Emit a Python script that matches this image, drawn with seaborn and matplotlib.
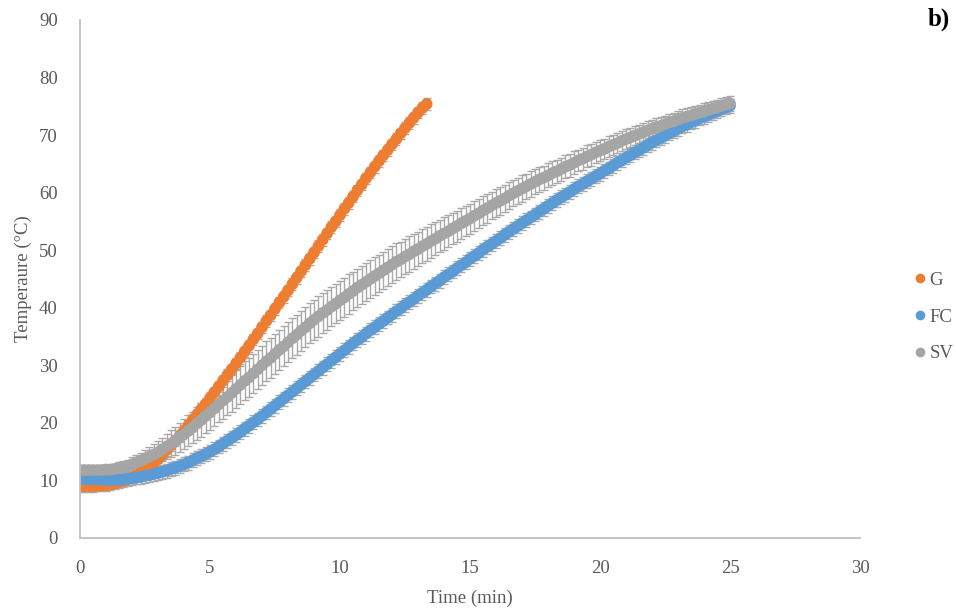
import numpy as np
import pandas as pd
import matplotlib
matplotlib.use("Agg")
import matplotlib.pyplot as plt
from matplotlib.lines import Line2D
import seaborn as sns

# Sampling interval: one reading every 10 s
step_min = 1 / 6

# G: mean temperature (°C), one row per minute of heating
g_temp = [
    9.0, 9.0, 9.0, 9.0, 9.1, 9.1,
    9.2, 9.3, 9.5, 9.7, 9.9, 10.2,
    10.5, 10.9, 11.3, 11.8, 12.4, 13.0,
    13.7, 14.5, 15.3, 16.1, 16.9, 17.7,
    18.6, 19.5, 20.5, 21.4, 22.4, 23.3,
    24.3, 25.3, 26.3, 27.3, 28.3, 29.3,
    30.3, 31.3, 32.4, 33.4, 34.5, 35.5,
    36.6, 37.7, 38.7, 39.8, 40.9, 41.9,
    43.0, 44.1, 45.2, 46.3, 47.4, 48.5,
    49.6, 50.7, 51.8, 52.9, 54.0, 55.0,
    56.1, 57.2, 58.2, 59.3, 60.4, 61.4,
    62.5, 63.5, 64.5, 65.5, 66.5, 67.4,
    68.4, 69.3, 70.3, 71.2, 72.1, 73.0,
    73.9, 74.7, 75.4,
]

# FC: mean temperature (°C)
fc_temp = [
    10.3, 10.3, 10.2, 10.2, 10.2, 10.1,
    10.1, 10.1, 10.1, 10.1, 10.2, 10.3,
    10.4, 10.5, 10.6, 10.8, 10.9, 11.1,
    11.3, 11.5, 11.7, 12.0, 12.2, 12.5,
    12.8, 13.1, 13.5, 13.9, 14.2, 14.6,
    15.0, 15.4, 15.9, 16.4, 16.9, 17.4,
    17.9, 18.4, 19.0, 19.5, 20.1, 20.6,
    21.2, 21.8, 22.4, 23.0, 23.6, 24.2,
    24.8, 25.4, 26.0, 26.6, 27.2, 27.8,
    28.4, 29.0, 29.6, 30.2, 30.8, 31.4,
    32.0, 32.6, 33.2, 33.8, 34.4, 34.9,
    35.5, 36.1, 36.6, 37.2, 37.7, 38.3,
    38.8, 39.4, 39.9, 40.5, 41.0, 41.5,
    42.1, 42.6, 43.1, 43.7, 44.2, 44.7,
    45.3, 45.8, 46.3, 46.9, 47.4, 47.9,
    48.5, 49.0, 49.5, 50.1, 50.6, 51.1,
    51.6, 52.1, 52.7, 53.2, 53.7, 54.2,
    54.7, 55.2, 55.7, 56.2, 56.7, 57.2,
    57.7, 58.2, 58.7, 59.2, 59.6, 60.1,
    60.6, 61.1, 61.5, 62.0, 62.4, 62.9,
    63.3, 63.8, 64.2, 64.7, 65.2, 65.6,
    66.1, 66.5, 67.0, 67.4, 67.8, 68.3,
    68.7, 69.1, 69.5, 69.9, 70.3, 70.7,
    71.1, 71.5, 71.8, 72.2, 72.5, 72.9,
    73.2, 73.5, 73.9, 74.2, 74.5, 74.8,
    75.1,
]

# SV: mean temperature (°C)
sv_temp = [
    11.8, 11.8, 11.8, 11.8, 11.8, 11.8,
    11.9, 11.9, 12.0, 12.2, 12.3, 12.5,
    12.8, 13.1, 13.4, 13.8, 14.1, 14.5,
    14.9, 15.4, 15.9, 16.4, 16.9, 17.5,
    18.0, 18.6, 19.2, 19.9, 20.5, 21.2,
    21.8, 22.5, 23.2, 23.9, 24.5, 25.2,
    25.9, 26.6, 27.3, 27.9, 28.6, 29.3,
    30.0, 30.7, 31.3, 32.0, 32.7, 33.3,
    34.0, 34.7, 35.3, 36.0, 36.6, 37.3,
    37.9, 38.5, 39.1, 39.6, 40.2, 40.7,
    41.3, 41.8, 42.4, 42.9, 43.5, 44.0,
    44.5, 45.0, 45.5, 46.0, 46.5, 47.0,
    47.5, 48.0, 48.4, 48.9, 49.3, 49.8,
    50.2, 50.7, 51.1, 51.6, 52.0, 52.5,
    52.9, 53.3, 53.8, 54.2, 54.7, 55.1,
    55.5, 56.0, 56.4, 56.9, 57.3, 57.8,
    58.2, 58.6, 59.0, 59.5, 59.9, 60.3,
    60.7, 61.1, 61.5, 61.9, 62.3, 62.6,
    63.0, 63.4, 63.7, 64.1, 64.5, 64.8,
    65.2, 65.6, 65.9, 66.3, 66.6, 67.0,
    67.3, 67.6, 68.0, 68.3, 68.6, 69.0,
    69.3, 69.6, 69.9, 70.2, 70.5, 70.8,
    71.1, 71.4, 71.6, 71.9, 72.2, 72.4,
    72.7, 73.0, 73.2, 73.4, 73.7, 73.9,
    74.1, 74.4, 74.6, 74.8, 75.1, 75.3,
    75.5,
]

# SV: standard deviation (°C)
sv_sd = [
    0.4, 0.4, 0.5, 0.5, 0.6, 0.6,
    0.7, 0.8, 0.9, 1.0, 1.0, 1.1,
    1.2, 1.3, 1.4, 1.5, 1.7, 1.8,
    1.9, 2.0, 2.1, 2.3, 2.4, 2.5,
    2.6, 2.7, 2.7, 2.8, 2.9, 2.9,
    3.0, 3.1, 3.1, 3.2, 3.2, 3.3,
    3.3, 3.3, 3.4, 3.4, 3.4, 3.4,
    3.4, 3.5, 3.5, 3.5, 3.5, 3.5,
    3.5, 3.5, 3.5, 3.5, 3.5, 3.5,
    3.5, 3.5, 3.5, 3.5, 3.4, 3.4,
    3.4, 3.4, 3.4, 3.3, 3.3, 3.3,
    3.3, 3.3, 3.3, 3.2, 3.2, 3.2,
    3.2, 3.2, 3.1, 3.1, 3.1, 3.0,
    3.0, 3.0, 2.9, 2.9, 2.9, 2.8,
    2.8, 2.8, 2.7, 2.7, 2.7, 2.6,
    2.6, 2.6, 2.5, 2.5, 2.5, 2.4,
    2.4, 2.4, 2.4, 2.3, 2.3, 2.3,
    2.3, 2.2, 2.2, 2.2, 2.1, 2.1,
    2.1, 2.1, 2.0, 2.0, 2.0, 2.0,
    2.0, 1.9, 1.9, 1.9, 1.9, 1.8,
    1.8, 1.8, 1.8, 1.7, 1.7, 1.7,
    1.7, 1.7, 1.7, 1.6, 1.6, 1.6,
    1.6, 1.6, 1.6, 1.5, 1.5, 1.5,
    1.5, 1.5, 1.5, 1.4, 1.4, 1.4,
    1.4, 1.4, 1.4, 1.3, 1.3, 1.3,
    1.3,
]

# G and FC: fixed-value error bars (°C)
g_sd = 1.0
fc_sd = 1.2

series_names = ["G", "FC", "SV"]
series_colors = ["#ED7D31", "#5B9BD5", "#A5A5A5"]

x_ticks = [0, 5, 10, 15, 20, 25, 30]
y_ticks = [0, 10, 20, 30, 40, 50, 60, 70, 80, 90]


def readings(name, temps, sd):
    n = len(temps)
    return pd.DataFrame({
        "Time (min)": np.arange(n) * step_min,
        "Temperature": temps,
        "sd": np.broadcast_to(np.asarray(sd, dtype=float), (n,)),
        "Sample": name,
    })


df = pd.concat([
    readings("G", g_temp, g_sd),
    readings("FC", fc_temp, fc_sd),
    readings("SV", sv_temp, sv_sd),
], ignore_index=True)

sns.set_theme(style="white")
plt.rcParams["font.family"] = ["Liberation Serif", "DejaVu Serif"]

fig = plt.figure(figsize=(9.56, 6.10), dpi=100)
ax = fig.add_axes([80 / 956, 72 / 610, 780 / 956, 518 / 610])

# error bars underneath the markers
for name in series_names:
    d = df[df["Sample"] == name]
    ax.errorbar(d["Time (min)"], d["Temperature"], yerr=d["sd"],
                fmt="none", ecolor="#A9A9A9", elinewidth=1.0,
                capsize=3.2, capthick=1.0, zorder=1)

sns.scatterplot(data=df, x="Time (min)", y="Temperature", hue="Sample",
                hue_order=series_names, palette=series_colors,
                s=72, linewidth=0, alpha=1, legend=False, ax=ax, zorder=2)

ax.set_xlim(0, 30)
ax.set_ylim(0, 90)
ax.set_xticks(x_ticks)
ax.set_yticks(y_ticks)
ax.set_xlabel("Time (min)", fontsize=13.5, color="#595959", labelpad=9)
ax.set_ylabel("Temperaure (°C)", fontsize=13.5, color="#595959", labelpad=5)

axis_grey = "#BFBFBF"
for side in ["top", "right"]:
    ax.spines[side].set_visible(False)
for side in ["left", "bottom"]:
    ax.spines[side].set_color(axis_grey)
    ax.spines[side].set_linewidth(1.3)
ax.tick_params(axis="both", direction="out", length=6, width=1.3,
               color=axis_grey, labelcolor="#595959", labelsize=13.5)
ax.tick_params(axis="x", pad=10)
ax.tick_params(axis="y", pad=10)
ax.grid(False)

handles = [Line2D([], [], marker="o", linestyle="none", markersize=7,
                  markerfacecolor=c, markeredgewidth=0)
           for c in series_colors]
fig.legend(handles, series_names, loc="center left",
           bbox_to_anchor=(905 / 956, 1 - 317 / 610), frameon=False,
           fontsize=13.5, labelcolor="#595959", handlelength=0.6,
           handletextpad=0.2, labelspacing=1.05, borderpad=0)

fig.text(950 / 956, 1 - 19 / 610, "b)", ha="right", va="center",
         fontsize=18, fontweight="bold", color="black")

fig.savefig("out.png", dpi=100)
